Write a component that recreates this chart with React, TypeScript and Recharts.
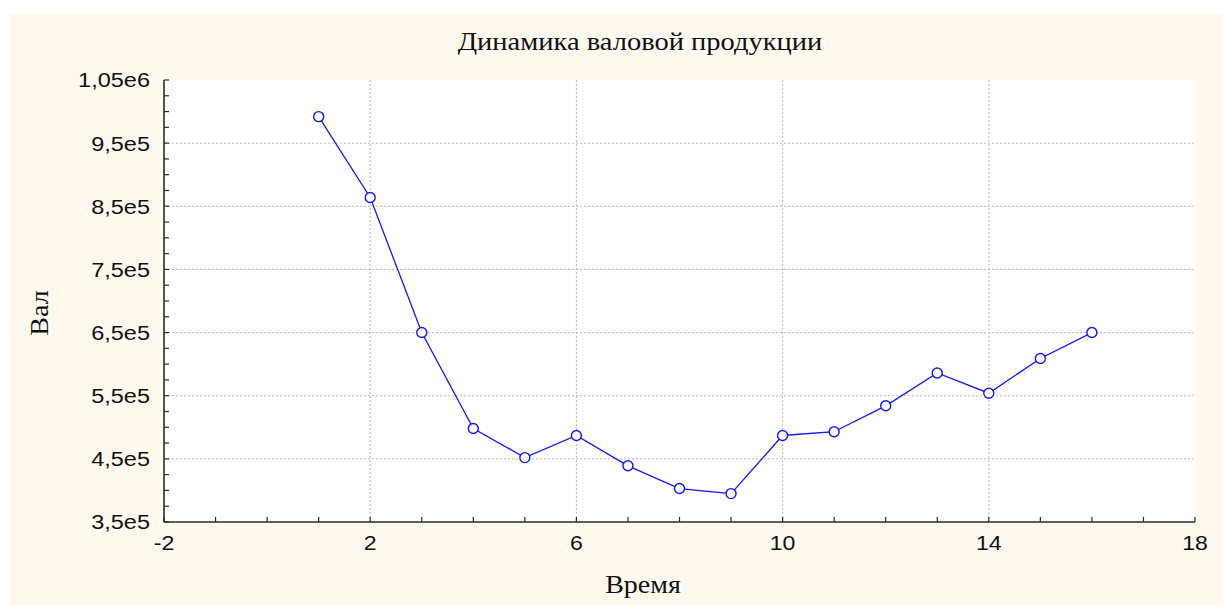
import React from "react";
import {
  LineChart,
  Line,
  XAxis,
  YAxis,
  ReferenceLine,
} from "recharts";

const times = [1, 2, 3, 4, 5, 6, 7, 8, 9, 10, 11, 12, 13, 14, 15, 16];
const values = [
  992000, 864000, 650000, 498000, 452000, 487000, 439000, 403000, 395000,
  487000, 493000, 534000, 586000, 554000, 609000, 650000,
];

const xMajorTicks = [-2, 2, 6, 10, 14, 18];
const xTickLabels = ["-2", "2", "6", "10", "14", "18"];
const yMajorTicks = [350000, 450000, 550000, 650000, 750000, 850000, 950000, 1050000];
const yTickLabels = ["3,5e5", "4,5e5", "5,5e5", "6,5e5", "7,5e5", "8,5e5", "9,5e5", "1,05e6"];

const xMinorTicks: number[] = [];
for (let i = -2; i <= 18; i++) xMinorTicks.push(i);
const yMinorTicks: number[] = [];
for (let v = 350000; v <= 1050000; v += 25000) yMinorTicks.push(v);

const xGrid = [2, 6, 10, 14];
const yGrid = [450000, 550000, 650000, 750000, 850000, 950000];

const data = times.map((t, i) => ({ t, v: values[i] }));

const AXIS_COLOR = "#2a2a2a";
const TICK_FONT = "'Liberation Sans', Arial, sans-serif";
const SERIF = "'Liberation Serif', 'Times New Roman', serif";

const XTick = (props: any) => {
  const { x, y, payload } = props;
  const idx = xMajorTicks.indexOf(payload.value);
  if (idx < 0) return <g />;
  return (
    <text
      x={0}
      y={0}
      dy="0.71em"
      textAnchor="middle"
      fontFamily={TICK_FONT}
      fontSize={21}
      fill="#111"
      transform={`translate(${x},${y}) scale(1.1,1)`}
    >
      {xTickLabels[idx]}
    </text>
  );
};

const YTick = (props: any) => {
  const { x, y, payload } = props;
  const idx = yMajorTicks.indexOf(payload.value);
  if (idx < 0) return <g />;
  return (
    <text
      x={0}
      y={0}
      dy="0.355em"
      textAnchor="end"
      fontFamily={TICK_FONT}
      fontSize={21}
      fill="#111"
      transform={`translate(${x},${y}) scale(1.12,1)`}
    >
      {yTickLabels[idx]}
    </text>
  );
};

const labelStyle: React.CSSProperties = {
  position: "absolute",
  fontFamily: SERIF,
  fontSize: 25,
  color: "#111",
  whiteSpace: "nowrap",
};

export default function App() {
  return (
    <div style={{ position: "fixed", left: 0, top: 0, width: 1223, height: 605, background: "#ffffff", overflow: "hidden" }}>
      <div style={{ position: "absolute", left: 10, top: 14, width: 1213, height: 591, background: "#fdf9ee" }}>
        <div style={{ ...labelStyle, left: 630, top: 28, transform: "translate(-50%, -50%) scaleX(1.14)" }}>
          Динамика валовой продукции
        </div>
        <div style={{ ...labelStyle, left: 633, top: 571, transform: "translate(-50%, -50%) scaleX(1.12)" }}>
          Время
        </div>
        <div style={{ ...labelStyle, left: 30, top: 299, transform: "translate(-50%, -50%) rotate(-90deg) scaleX(1.12)" }}>
          Вал
        </div>
        <div style={{ position: "absolute", left: 0, top: 0 }}>
          <LineChart
            width={1213}
            height={591}
            data={data}
            margin={{ top: 66, right: 28, left: 0, bottom: 0 }}
          >
            <rect x={154} y={66} width={1031} height={442} fill="#ffffff" />
            <XAxis
              xAxisId={0}
              dataKey="t"
              type="number"
              domain={[-2, 18]}
              ticks={xMinorTicks}
              interval={0}
              height={83}
              tickSize={-5}
              tickMargin={18}
              tick={XTick}
              stroke={AXIS_COLOR}
              axisLine={{ stroke: AXIS_COLOR, strokeWidth: 1.6 }}
              tickLine={{ stroke: AXIS_COLOR, strokeWidth: 1.2 }}
            />
            <XAxis
              xAxisId="top"
              orientation="top"
              type="number"
              domain={[-2, 18]}
              allowDataOverflow
              ticks={xMinorTicks}
              interval={0}
              height={0}
              tickSize={-5}
              tick={false}
              axisLine={{ stroke: AXIS_COLOR, strokeWidth: 1.6 }}
              tickLine={{ stroke: AXIS_COLOR, strokeWidth: 1.2 }}
            />
            <YAxis
              yAxisId={0}
              type="number"
              domain={[350000, 1050000]}
              allowDataOverflow
              ticks={yMinorTicks}
              interval={0}
              width={154}
              tickSize={-5}
              tickMargin={19}
              tick={YTick}
              axisLine={{ stroke: AXIS_COLOR, strokeWidth: 1.6 }}
              tickLine={{ stroke: AXIS_COLOR, strokeWidth: 1.2 }}
            />
            <YAxis
              yAxisId="right"
              orientation="right"
              type="number"
              domain={[350000, 1050000]}
              allowDataOverflow
              ticks={yMinorTicks}
              interval={0}
              width={0}
              tickSize={-5}
              tick={false}
              axisLine={{ stroke: AXIS_COLOR, strokeWidth: 1.6 }}
              tickLine={{ stroke: AXIS_COLOR, strokeWidth: 1.2 }}
            />
            {xGrid.map((g) => (
              <ReferenceLine key={"x" + g} x={g} stroke="#b8b8b8" strokeDasharray="2 2" strokeWidth={1} />
            ))}
            {yGrid.map((g) => (
              <ReferenceLine key={"y" + g} y={g} stroke="#b8b8b8" strokeDasharray="2 2" strokeWidth={1} />
            ))}
            <Line
              dataKey="v"
              type="linear"
              stroke="#1414ff"
              strokeWidth={1.3}
              isAnimationActive={false}
              dot={{ r: 5, fill: "#ffffff", stroke: "#1414ff", strokeWidth: 1.4 }}
              activeDot={false}
            />
          </LineChart>
        </div>
      </div>
    </div>
  );
}
